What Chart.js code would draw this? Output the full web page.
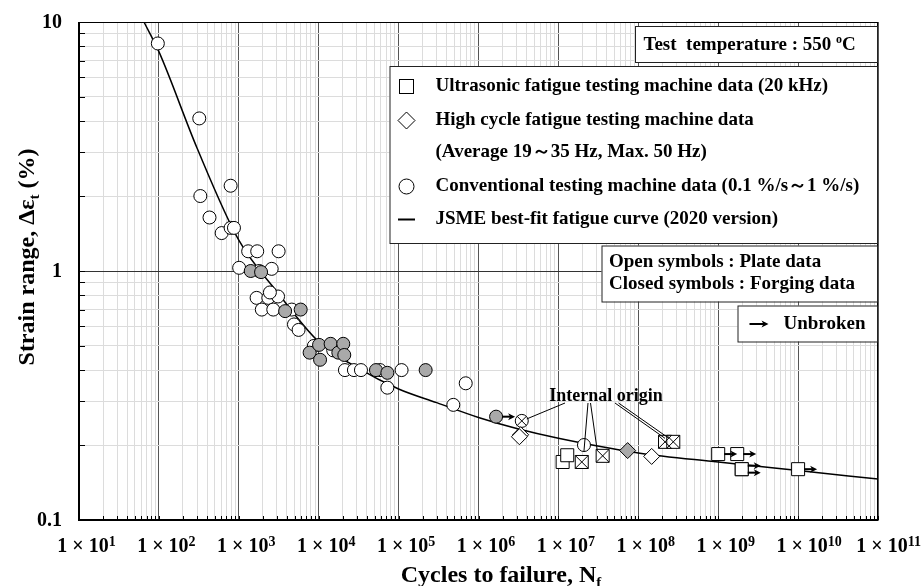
<!DOCTYPE html>
<html><head><meta charset="utf-8">
<script src="https://cdn.jsdelivr.net/npm/chart.js@4/dist/chart.umd.min.js"></script>
<style>html,body{margin:0;padding:0;background:#fff}canvas{display:block}</style>
</head><body>
<canvas id="c" width="924" height="586"></canvas>
<script>
// ---------- data ----------
const xTickExps = [1,2,3,4,5,6,7,8,9,10,11];
const yTickLabels = ['0.1','1','10'];
const yTickValues = [0.1, 1, 10];

// JSME best-fit fatigue curve
const curveN      = [65, 100, 300, 1e3, 3e3, 1e4, 3e4, 1e5, 3e5, 1e6, 3e6, 1e7, 1e8, 1e9, 1e10, 1e11];
const curveStrain = [10, 7.6, 3.12, 1.33, 0.826, 0.52, 0.41, 0.336, 0.296, 0.258, 0.233, 0.213, 0.186, 0.171, 0.158, 0.146];

// Conventional testing machine, plate (open circles)
const convPlate = [[97,8.2],[320,4.1],[330,2.0],[790,2.2],[430,1.64],[610,1.42],[790,1.49],[870,1.49],
  [1310,1.2],[1700,1.2],[3150,1.2],[1010,1.03],[2580,1.02],[1800,1.0],[1670,0.78],[2340,0.78],[3100,0.79],
  [2450,0.82],[1940,0.70],[2700,0.70],[4600,0.70],[4900,0.61],[5600,0.58],[8700,0.50],[15200,0.48],
  [21300,0.40],[27600,0.40],[33800,0.40],[58500,0.40],[72300,0.34],[109000,0.40],[692000,0.354],[484000,0.29],
  [2.09e7,0.20]];
// Conventional testing machine, forging (closed circles)
const convForging = [[1410,1.0],[1900,0.99],[3800,0.69],[5950,0.70],[7700,0.47],[10100,0.505],[10400,0.44],
  [14100,0.51],[17600,0.47],[20300,0.51],[20900,0.46],[52100,0.40],[72300,0.39],[218000,0.40]];
const convForgingRunout = [[1.66e6,0.26]];
const convInternal = [[3.48e6,0.25]];
// High cycle fatigue testing machine
const hcfPlate = [[3.37e6,0.22],[3.25e6,0.216],[1.47e8,0.18]];
const hcfForging = [[7.36e7,0.19]];
// Ultrasonic fatigue testing machine
const usPlate = [[1.13e7,0.171],[1.29e7,0.182]];
const usInternal = [[1.96e7,0.171],[3.58e7,0.181],[2.16e8,0.206],[2.74e8,0.206]];
const usRunout = [[1.0e9,0.184],[1.73e9,0.184],[1.97e9,0.16],[1.97e9,0.16],[1.0e10,0.16]];

// ---------- helpers ----------
const FONT = '"Liberation Serif","Times New Roman",serif';
const F = s => 'bold ' + s + 'px ' + FONT;
const GRAY = '#a9a9a9';
const pts = arr => arr.map(p => ({x: p[0], y: p[1]}));
function gridVals(minE, maxE) {
  const v = [];
  for (let e = minE; e < maxE; e++) for (let m = 1; m <= 9; m++) v.push(m * Math.pow(10, e));
  v.push(Math.pow(10, maxE));
  return v;
}
const isMajor = v => Math.abs(Math.log10(v) - Math.round(Math.log10(v))) < 1e-9;

function drawParts(ctx, parts, x, y, align) {
  let w = 0;
  parts.forEach(p => { ctx.font = F(p[1]); w += ctx.measureText(p[0]).width; });
  let cx = align === 'center' ? x - w / 2 : (align === 'right' ? x - w : x);
  ctx.textAlign = 'left'; ctx.textBaseline = 'alphabetic';
  parts.forEach(p => { ctx.font = F(p[1]); ctx.fillText(p[0], cx, y + (p[2] || 0)); cx += ctx.measureText(p[0]).width; });
  return w;
}
function arrow(ctx, x0, y, x1) {
  ctx.save();
  ctx.strokeStyle = '#000'; ctx.fillStyle = '#000'; ctx.lineWidth = 2;
  ctx.beginPath(); ctx.moveTo(x0, y); ctx.lineTo(x1 - 4, y); ctx.stroke();
  ctx.beginPath(); ctx.moveTo(x1, y); ctx.lineTo(x1 - 7, y - 3.5); ctx.lineTo(x1 - 5, y); ctx.lineTo(x1 - 7, y + 3.5); ctx.closePath(); ctx.fill();
  ctx.restore();
}
function line(ctx, x0, y0, x1, y1, w) {
  ctx.beginPath(); ctx.moveTo(x0, y0); ctx.lineTo(x1, y1); ctx.lineWidth = w || 1; ctx.strokeStyle = '#000'; ctx.stroke();
}
function box(ctx, x, y, w, h) {
  ctx.fillStyle = '#fff'; ctx.fillRect(x, y, w, h);
  ctx.strokeStyle = '#222'; ctx.lineWidth = 1; ctx.strokeRect(x + 0.5, y + 0.5, w, h);
}

const decorPlugin = {
  id: 'decor',
  beforeDraw(chart) {
    const c = chart.ctx; c.save(); c.fillStyle = '#fff'; c.fillRect(0, 0, chart.width, chart.height); c.restore();
  },
  afterDraw(chart) {
    const c = chart.ctx, xs = chart.scales.x, ys = chart.scales.y, a = chart.chartArea;
    c.save();
    // inside ticks
    c.strokeStyle = '#000'; c.lineWidth = 1;
    gridVals(1, 11).forEach(v => { const px = Math.round(xs.getPixelForValue(v)) + 0.5; line(c, px, a.bottom, px, a.bottom - 4); });
    gridVals(-1, 1).forEach(v => { const py = Math.round(ys.getPixelForValue(v)) + 0.5; line(c, a.left, py, a.left + 6, py); });
    // frame
    line(c, a.left, a.top + 0.5, a.right, a.top + 0.5, 1);
    line(c, a.right - 0.5, a.top, a.right - 0.5, a.bottom, 1);
    line(c, a.left, a.bottom, a.right + 0.5, a.bottom, 2);
    line(c, a.left, a.top, a.left, a.bottom + 1, 2);
    // x tick labels
    c.fillStyle = '#000';
    xTickExps.forEach(e => {
      const px = xs.getPixelForValue(Math.pow(10, e));
      c.font = F(20);
      const base = '1 × 10';
      const bw = c.measureText(base).width;
      const x0 = px + 4 - bw / 2;
      drawParts(c, [[base, 20, 0], [String(e), 14, -6]], x0, 552, 'left');
    });
    // y tick labels
    yTickValues.forEach((v, i) => {
      const py = ys.getPixelForValue(v);
      c.font = F(20); c.textAlign = 'right'; c.textBaseline = 'middle';
      c.fillText(yTickLabels[i], 62, py + 1);
    });
    // axis titles
    drawParts(c, [['Cycles to failure, N', 24, 0], ['f', 15, 5]], 501, 582, 'center');
    c.save(); c.translate(34, 257); c.rotate(-Math.PI / 2);
    drawParts(c, [['Strain range, Δε', 24, 0], ['t', 15, 5], [' (%)', 24, 0]], 0, 0, 'center');
    c.restore();

    // runout arrows
    chart.data.datasets.forEach((ds, i) => {
      if (!ds.runout) return;
      const els = chart.getDatasetMeta(i).data;
      const seen = {};
      els.forEach(el => { const k = Math.round(el.x) + ',' + Math.round(el.y); seen[k] = (seen[k] || 0) + 1; });
      const used = {};
      els.forEach(el => {
        const k = Math.round(el.x) + ',' + Math.round(el.y);
        const n = seen[k]; used[k] = (used[k] || 0);
        const off = n > 1 ? (used[k] === 0 ? -3.5 : 3.5) : 0;
        used[k]++;
        arrow(c, el.x + 6, el.y + off, el.x + 19);
      });
    });

    // "Internal origin" annotation
    c.fillStyle = '#000';
    c.font = F(18); c.textAlign = 'center'; c.textBaseline = 'alphabetic';
    c.fillText('Internal origin', 606, 401);
    const P = (n, s) => [xs.getPixelForValue(n), ys.getPixelForValue(s)];
    let p = P(convInternal[0][0], convInternal[0][1]); line(c, 565, 403, p[0] + 5, p[1] - 2);
    p = P(convPlate[33][0], convPlate[33][1]); line(c, 588, 403, p[0], p[1] + 6);
    p = P(usInternal[1][0], usInternal[1][1]); line(c, 590.5, 403, p[0] - 5.5, p[1] - 6);
    p = P(usInternal[2][0], usInternal[2][1]); line(c, 615, 403, p[0], p[1] - 3.5); line(c, 618.5, 403, p[0] + 4, p[1] - 3.5);

    // legend boxes
    box(c, 635, 26, 242, 36);
    c.fillStyle = '#000';
    drawParts(c, [['Test  temperature : 550 ', 19, 0], ['o', 12, -7], ['C', 19, 0]], 643.5, 50, 'left');

    box(c, 389.5, 66, 487.5, 177);
    const tx = 435.5, sx = 406.5;
    c.lineWidth = 1; c.strokeStyle = '#000'; c.fillStyle = '#fff';
    c.fillRect(sx - 7, 86.5 - 7, 14, 14); c.strokeRect(sx - 7, 86.5 - 7, 14, 14);
    c.beginPath(); c.moveTo(sx - 8.5, 120.5); c.lineTo(sx, 112); c.lineTo(sx + 8.5, 120.5); c.lineTo(sx, 129); c.closePath(); c.fill(); c.stroke();
    c.beginPath(); c.arc(sx, 186.5, 7.5, 0, Math.PI * 2); c.fill(); c.stroke();
    line(c, sx - 8.5, 219.5, sx + 8.5, 219.5, 2);
    c.fillStyle = '#000';
    const rows = [['Ultrasonic fatigue testing machine data (20 kHz)', 86.5],
                  ['High cycle fatigue testing machine data', 120.5],
                  ['(Average 19～35 Hz, Max. 50 Hz)', 152.5],
                  ['Conventional testing machine data (0.1 %/s～1 %/s)', 186.5],
                  ['JSME best-fit fatigue curve (2020 version)', 219.5]];
    rows.forEach(r => { c.font = F(19); c.textAlign = 'left'; c.textBaseline = 'middle'; c.fillText(r[0], tx, r[1]); });

    box(c, 601.5, 245.5, 275.5, 56);
    c.fillStyle = '#000'; c.font = F(19); c.textAlign = 'left'; c.textBaseline = 'middle';
    c.fillText('Open symbols : Plate data', 609, 262);
    c.fillText('Closed symbols : Forging data', 609, 284);

    box(c, 737.5, 305.5, 139.5, 36);
    arrow(c, 749.5, 324, 768.5);
    c.fillStyle = '#000'; c.font = F(19); c.textAlign = 'left'; c.textBaseline = 'middle';
    c.fillText('Unbroken', 783.5, 324.5);
    c.restore();
  }
};

const mk = (data, style, r, fill, order, extra) => Object.assign({
  data: pts(data), showLine: false, pointStyle: style, pointRadius: r,
  backgroundColor: fill, borderColor: '#000', borderWidth: 1, order: order
}, extra || {});

new Chart(document.getElementById('c'), {
  type: 'scatter',
  data: {
    datasets: [
      { data: curveN.map((n, i) => ({x: n, y: curveStrain[i]})), showLine: true, pointRadius: 0,
        borderColor: '#000', borderWidth: 1.5, cubicInterpolationMode: 'monotone', fill: false, order: 20 },
      mk(convPlate, 'circle', 6.5, '#fff', 15),
      mk(convForging, 'circle', 6.5, GRAY, 14),
      mk(convForgingRunout, 'circle', 6.5, GRAY, 13, {runout: true}),
      mk(convInternal, 'circle', 6.5, '#fff', 12),
      mk(convInternal, 'crossRot', 6.5, '#fff', 11),
      mk(hcfPlate, 'rectRot', 8, '#fff', 10),
      mk(hcfForging, 'rectRot', 8, GRAY, 9),
      mk(usPlate, 'rect', 9.2, '#fff', 8),
      mk(usInternal, 'rect', 9.2, '#fff', 7),
      mk(usInternal, 'crossRot', 9.2, '#fff', 6),
      mk(usRunout, 'rect', 9.2, '#fff', 5, {runout: true})
    ]
  },
  options: {
    responsive: false, animation: false, events: [],
    layout: { padding: { top: 22, right: 46, left: 0, bottom: 0 } },
    plugins: { legend: { display: false }, tooltip: { enabled: false } },
    scales: {
      x: {
        type: 'logarithmic', min: 10, max: 1e11, position: 'bottom',
        afterBuildTicks: s => { s.ticks = gridVals(1, 11).map(v => ({value: v})); },
        afterFit: s => { s.height = 66; },
        ticks: { display: false }, border: { display: false },
        grid: { drawTicks: false, lineWidth: 1, color: ctx => (ctx.tick && isMajor(ctx.tick.value)) ? '#555' : '#dcdcdc' }
      },
      y: {
        type: 'logarithmic', min: 0.1, max: 10,
        afterBuildTicks: s => { s.ticks = gridVals(-1, 1).map(v => ({value: v})); },
        afterFit: s => { s.width = 79; },
        ticks: { display: false }, border: { display: false },
        grid: { drawTicks: false, lineWidth: 1, color: ctx => (ctx.tick && isMajor(ctx.tick.value)) ? '#333' : '#dcdcdc' }
      }
    }
  },
  plugins: [decorPlugin]
});
</script>
</body></html>
